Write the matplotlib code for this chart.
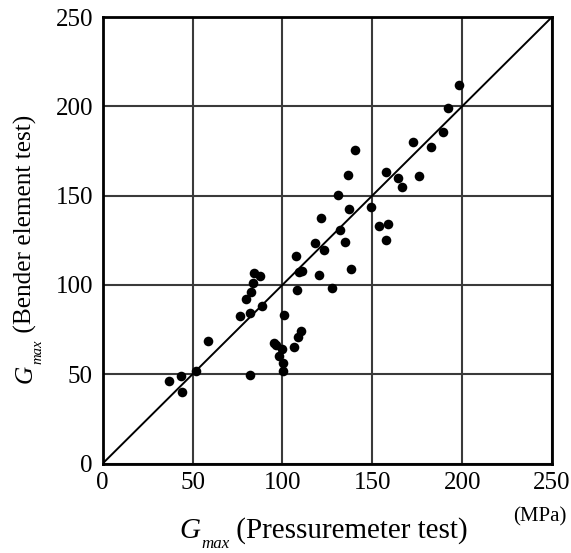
import matplotlib
matplotlib.use("Agg")
import matplotlib.pyplot as plt

plt.rcParams['font.family'] = ['Liberation Serif', 'DejaVu Serif']

pressuremeter = [37.0, 43.5, 44.4, 52.0, 58.7, 76.6, 79.5, 82.0, 82.0, 82.3, 83.4, 84.4, 87.7, 88.5,
                 95.4, 96.6, 98.3, 99.6, 100.2, 100.6, 101.1, 106.5, 107.8, 108.2, 108.4, 109.5, 110.1,
                 111.0, 118.4, 120.3, 121.6, 123.4, 127.7, 130.7, 132.3, 134.8, 136.3, 136.8, 137.9,
                 140.5, 149.1, 153.7, 157.4, 157.4, 158.7, 164.5, 166.8, 172.9, 176.0, 182.9, 189.1,
                 191.9, 198.2]
bender = [46.2, 48.8, 39.9, 51.6, 68.8, 82.4, 92.1, 49.7, 84.1, 96.2, 101.2, 106.5, 105.2, 88.4,
          67.5, 66.3, 60.4, 64.1, 52.0, 56.1, 83.1, 65.1, 116.2, 97.1, 70.7, 107.2, 74.4,
          107.6, 123.3, 105.5, 137.6, 119.4, 98.5, 150.2, 130.7, 124.0, 161.4, 142.7, 108.7,
          175.5, 143.4, 132.8, 163.0, 125.3, 134.3, 159.9, 155.0, 179.8, 161.0, 177.0, 185.4,
          199.2, 211.9]
ticks = [0, 50, 100, 150, 200, 250]
xlabel_text = ' (Pressuremeter test)'
ylabel_text = ' (Bender element test)'

W, H = 571, 553
fig = plt.figure(figsize=(W / 100, H / 100), dpi=100)
ax = fig.add_axes([102.7 / W, 1 - 463.5 / H, (552 - 102.7) / W, (463.5 - 17) / H])
ax.set_xlim(0, 250)
ax.set_ylim(0, 250)
ax.set_xticks(ticks)
ax.set_yticks(ticks)
ax.set_xticklabels([str(t) for t in ticks])
ax.set_yticklabels([str(t) for t in ticks])
ax.grid(True, color='#3a3a3a', linewidth=1.5)
ax.set_axisbelow(True)
ax.tick_params(length=0, labelsize=18)
ax.tick_params(axis='x', pad=6)
ax.tick_params(axis='y', pad=7)
for s in ax.spines.values():
    s.set_linewidth(2)
    s.set_color('black')

ax.plot([0, 250], [0, 250], color='black', linewidth=1.4, zorder=2)
ax.scatter(pressuremeter, bender, s=48, color='black', zorder=3, linewidths=0)

renderer = fig.canvas.get_renderer()


def gmax_label(start, base, fs, rest, vertical):
    """Draw italic G with lowered italic 'max' subscript followed by text.
    start: pixel position along the text direction, base: baseline pixel position."""
    def put(pos, off, s, size, style):
        if vertical:
            x, y = base + off, pos
            t = fig.text(x / W, y / H, s, fontsize=size, style=style, rotation=90,
                         rotation_mode='anchor', ha='left', va='baseline')
        else:
            x, y = pos, base - off
            t = fig.text(x / W, y / H, s, fontsize=size, style=style,
                         ha='left', va='baseline')
        bb = t.get_window_extent(renderer)
        return bb.height if vertical else bb.width
    p = start
    p += put(p, 0, 'G', fs, 'italic') + 1
    p += put(p, fs * 0.5, 'max', fs * 0.58, 'italic')
    put(p, 0, rest, fs, 'normal')


gmax_label(179, H - 538, 21, xlabel_text, vertical=False)
gmax_label(H - 383, 32, 18.2, ylabel_text, vertical=True)
fig.text(540 / W, 1 - 517 / H, '(MPa)', fontsize=15, ha='center', va='center')

fig.savefig('out.png', dpi=100)
